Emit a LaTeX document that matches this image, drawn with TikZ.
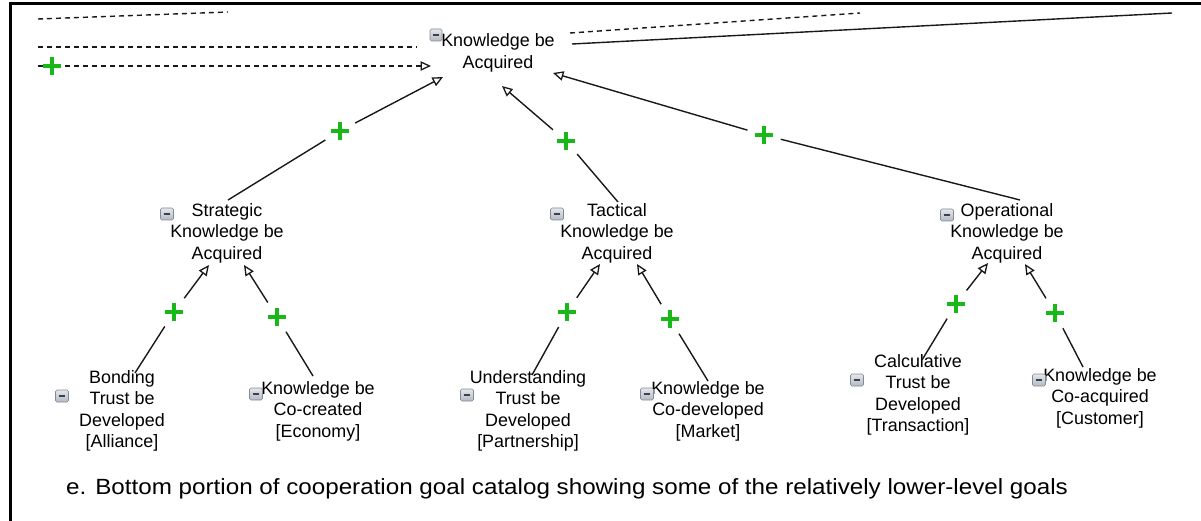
\documentclass[tikz,border=0pt]{standalone}
\usepackage{fontspec}
\setmainfont{Liberation Sans}
\usetikzlibrary{arrows.meta}
\definecolor{plusgreen}{RGB}{24,184,24}
\definecolor{iconfill}{RGB}{196,202,211}
\definecolor{iconedge}{RGB}{130,138,150}
\definecolor{icondash}{RGB}{58,64,76}
\tikzset{
  goal/.style={align=center, inner sep=0pt, font=\fontsize{17.9}{21.5}\selectfont},
  collapse/.style={rectangle, rounded corners=1.5pt, minimum width=13pt, minimum height=12pt,
    inner sep=0pt, draw=iconedge, line width=0.6pt,
    top color=iconfill!45!white, bottom color=iconfill!92!black,
    path picture={\draw[icondash, line width=1.7pt]
      ([xshift=-3.4pt]path picture bounding box.center) -- ([xshift=3.4pt]path picture bounding box.center);}},
  crossmark/.style={circle, inner sep=0pt,
    path picture={\draw[plusgreen, line width=3.2pt]
      ([xshift=-9pt]path picture bounding box.center) -- ([xshift=9pt]path picture bounding box.center)
      ([yshift=-9pt]path picture bounding box.center) -- ([yshift=9pt]path picture bounding box.center);}},
  contrib/.style={crossmark, minimum size=34pt},
  contribsmall/.style={crossmark, minimum size=19pt},
  link/.style={line width=1.4pt, black!90},
  refine/.style={link, -{Triangle[open, length=10.5pt, width=9.5pt, line width=1.3pt]}},
  dashlink/.style={link, dash pattern=on 5pt off 4pt},
}
\begin{document}
\begin{tikzpicture}[x=1pt, y=-1pt]
\useasboundingbox (0,0) rectangle (1201,521);
\fill[white] (0,0) rectangle (1201,521);

% frame (left and top edges)
\draw[line width=3pt, black] (10,521) -- (10,4) -- (1201,4);

% goals
\node[goal] (top)   at (498,53)  {Knowledge be\\Acquired};
\node[goal] (strat) at (227,233) {Strategic\\Knowledge be\\Acquired};
\node[goal] (tact)  at (617,233) {Tactical\\Knowledge be\\Acquired};
\node[goal] (oper)  at (1007,233) {Operational\\Knowledge be\\Acquired};
\node[goal] (bond)  at (122,411) {Bonding\\Trust be\\Developed\\{[Alliance]}};
\node[goal] (cocr)  at (318,411) {Knowledge be\\Co-created\\{[Economy]}};
\node[goal] (under) at (528,411) {Understanding\\Trust be\\Developed\\{[Partnership]}};
\node[goal] (codev) at (708,411) {Knowledge be\\Co-developed\\{[Market]}};
\node[goal] (calc)  at (918,395) {Calculative\\Trust be\\Developed\\{[Transaction]}};
\node[goal] (coacq) at (1100,398) {Knowledge be\\Co-acquired\\{[Customer]}};

% collapse icons
\node[collapse, minimum width=12pt] (iTop) at (436,35) {};
\node[collapse] (iStrat) at (167,214) {};
\node[collapse] (iTact)  at (557,214) {};
\node[collapse] (iOper)  at (947,215) {};
\node[collapse] (iBond)  at (62,396) {};
\node[collapse] (iCocr)  at (256,394) {};
\node[collapse] (iUnder) at (467,395) {};
\node[collapse] (iCodev) at (647,394) {};
\node[collapse] (iCalc)  at (857,380) {};
\node[collapse] (iCoacq) at (1039,380) {};

% contribution markers
\node[contrib] (pStrat) at (340,131) {};
\node[contrib] (pTact)  at (566,141) {};
\node[contrib] (pOper)  at (764,135) {};
\node[contrib] (pBond)  at (174,312) {};
\node[contrib] (pCocr)  at (277,317) {};
\node[contrib] (pUnder) at (567,312) {};
\node[contrib] (pCodev) at (670,319) {};
\node[contrib] (pCalc)  at (956,304) {};
\node[contrib] (pCoacq) at (1055,313) {};

% connector end points
\coordinate (tStratTail) at (228,200);
\coordinate (tStratTip)  at (443,77);
\coordinate (tTactTail)  at (618,202);
\coordinate (tTactTip)   at (502,86);
\coordinate (tOperTail)  at (1020,200);
\coordinate (tOperTip)   at (553,73);
\coordinate (bondTail)   at (135,373);
\coordinate (bondTip)    at (209,265);
\coordinate (cocrTail)   at (313,376);
\coordinate (cocrTip)    at (244,265);
\coordinate (underTail)  at (532,375);
\coordinate (underTip)   at (600,264);
\coordinate (codevTail)  at (708,381);
\coordinate (codevTip)   at (637,264);
\coordinate (calcTail)   at (922,360);
\coordinate (calcTip)    at (988,263);
\coordinate (coacqTail)  at (1083,367);
\coordinate (coacqTip)   at (1025,264);

% contributions into the top goal
\draw[link] (tStratTail) -- (pStrat);
\draw[refine] (pStrat) -- (tStratTip);
\draw[link] (tTactTail) -- (pTact);
\draw[refine] (pTact) -- (tTactTip);
\draw[link] (tOperTail) -- (pOper);
\draw[refine] (pOper) -- (tOperTip);

% contributions into the three sub-goals
\draw[link] (bondTail) -- (pBond);
\draw[refine] (pBond) -- (bondTip);
\draw[link] (cocrTail) -- (pCocr);
\draw[refine] (pCocr) -- (cocrTip);
\draw[link] (underTail) -- (pUnder);
\draw[refine] (pUnder) -- (underTip);
\draw[link] (codevTail) -- (pCodev);
\draw[refine] (pCodev) -- (codevTip);
\draw[link] (calcTail) -- (pCalc);
\draw[refine] (pCalc) -- (calcTip);
\draw[link] (coacqTail) -- (pCoacq);
\draw[refine] (pCoacq) -- (coacqTip);

% links continuing beyond the shown portion
\coordinate (lA1) at (38,19);  \coordinate (lA2) at (228,12);
\coordinate (lB1) at (38,47);  \coordinate (lB2) at (417,47);
\coordinate (lC1) at (38,66);  \coordinate (lC2) at (431,66);
\coordinate (rA1) at (570,33); \coordinate (rA2) at (860,13);
\coordinate (rB1) at (572,44); \coordinate (rB2) at (1172,13);
\draw[dashlink] (lA1) -- (lA2);
\draw[dashlink] (lB1) -- (lB2);
\draw[dashlink, -{Triangle[open, length=10.5pt, width=9.5pt, line width=1.3pt]}] (lC1) -- (lC2);
\node[contribsmall] (pLeft) at (52,66) {};
\draw[dashlink] (rA1) -- (rA2);
\draw[link] (rB1) -- (rB2);

% caption
\node[anchor=west, inner sep=0pt, font=\fontsize{22}{26}\selectfont] (caption) at (66,489)
  {\scalebox{1.1}[1]{e. Bottom portion of cooperation goal catalog showing some of the relatively lower-level goals}};
\end{tikzpicture}
\end{document}
